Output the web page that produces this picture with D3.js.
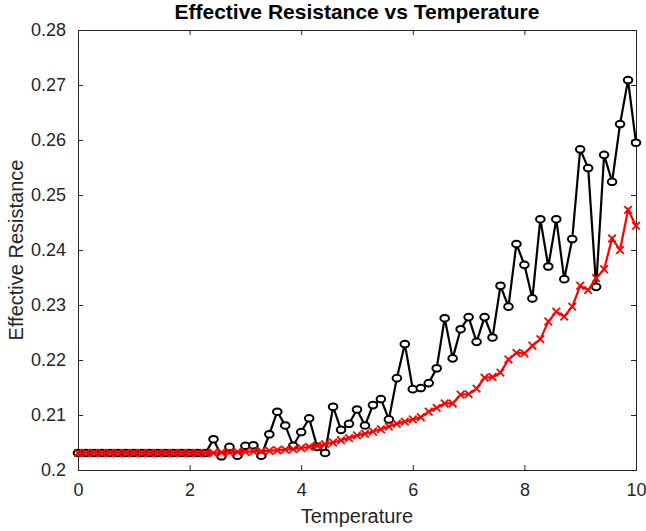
<!DOCTYPE html>
<html>
<head>
<meta charset="utf-8">
<script src="https://cdn.jsdelivr.net/npm/d3@7"></script>
<style>
    body { margin: 0; background: #fff; }
    svg { display: block; font-family: "Liberation Sans", Arial, sans-serif; }
</style>
</head>
<body>
<div id="chart"></div>
<script>
"use strict";

// temperature steps: x = i / 7, i = 0..70
var stepCount = 71;
var xTicks = [0, 2, 4, 6, 8, 10];
var yTicks = [0.2, 0.21, 0.22, 0.23, 0.24, 0.25, 0.26, 0.27, 0.28];
var yTickLabels = ["0.2", "0.21", "0.22", "0.23", "0.24", "0.25", "0.26", "0.27", "0.28"];

// black series (diamond markers)
var blackValues = [
    0.2031, 0.2031, 0.2031, 0.2031, 0.2031, 0.2031, 0.2031, 0.2031, 0.2031, 0.2031,
    0.2031, 0.2031, 0.2031, 0.2031, 0.2031, 0.2031, 0.2031, 0.2056, 0.2025, 0.2042,
    0.2026, 0.2044, 0.2045, 0.2026, 0.2065, 0.2106, 0.2081, 0.2044, 0.2069, 0.2094,
    0.2042, 0.2031, 0.2115, 0.2073, 0.2084, 0.2110, 0.2081, 0.2118, 0.2129, 0.2092,
    0.2167, 0.2229, 0.2147, 0.2149, 0.2158, 0.2185, 0.2276, 0.2203, 0.2256, 0.2278,
    0.2233, 0.2278, 0.2241, 0.2335, 0.2297, 0.2411, 0.2373, 0.2312, 0.2456, 0.2370,
    0.2456, 0.2347, 0.2420, 0.2583, 0.2549, 0.2333, 0.2573, 0.2524, 0.2629, 0.2709,
    0.2595
];

// red series (x markers)
var redValues = [
    0.2031, 0.2031, 0.2031, 0.2031, 0.2031, 0.2031, 0.2031, 0.2031, 0.2031, 0.2031,
    0.2031, 0.2031, 0.2031, 0.2031, 0.2031, 0.2031, 0.2031, 0.2031, 0.2032, 0.2032,
    0.2033, 0.2033, 0.2034, 0.2034, 0.2035, 0.2036, 0.2037, 0.2038, 0.2040, 0.2042,
    0.2044, 0.2047, 0.2050, 0.2054, 0.2058, 0.2063, 0.2066, 0.2070, 0.2074, 0.2079,
    0.2084, 0.2088, 0.2092, 0.2096, 0.2106, 0.2113, 0.2121, 0.2121, 0.2137, 0.2138,
    0.2148, 0.2168, 0.2169, 0.2177, 0.2201, 0.2213, 0.2212, 0.2226, 0.2238, 0.2270,
    0.2288, 0.2279, 0.2297, 0.2335, 0.2327, 0.2349, 0.2365, 0.2421, 0.2400, 0.2473,
    0.2444
];

var W = 646, H = 531,
    margin = { top: 30, right: 10, bottom: 61, left: 78 },
    pw = W - margin.left - margin.right,
    ph = H - margin.top - margin.bottom,
    axisColor = "#262626",
    tickLen = 5;

var temps = d3.range(stepCount).map(function (i) { return i / 7; });

var x = d3.scaleLinear().domain([0, 10]).range([0, pw]);
var y = d3.scaleLinear().domain([0.2, 0.28]).range([ph, 0]);

var svg = d3.select("#chart")
    .append("svg")
    .attr("width", W)
    .attr("height", H);

var g = svg.append("g")
    .attr("transform", "translate(" + margin.left + "," + margin.top + ")");

// axes with inward ticks, mirrored on top and right (box on)
g.append("g")
    .attr("transform", "translate(0," + ph + ")")
    .call(d3.axisBottom(x).tickValues(xTicks).tickSize(-tickLen).tickPadding(13).tickFormat(d3.format("d")));
g.append("g")
    .call(d3.axisTop(x).tickValues(xTicks).tickSize(-tickLen).tickFormat(""));
g.append("g")
    .call(d3.axisLeft(y).tickValues(yTicks).tickSize(-tickLen).tickPadding(12)
        .tickFormat(function (d, i) { return yTickLabels[i]; }));
g.append("g")
    .attr("transform", "translate(" + pw + ",0)")
    .call(d3.axisRight(y).tickValues(yTicks).tickSize(-tickLen).tickFormat(""));

g.selectAll(".domain").attr("stroke", axisColor).attr("stroke-width", 1);
g.selectAll(".tick line").attr("stroke", axisColor).attr("stroke-width", 1);
g.selectAll(".tick text")
    .attr("fill", axisColor)
    .attr("font-size", 18);

var line = d3.line()
    .x(function (d, i) { return x(temps[i]); })
    .y(function (d) { return y(d); });

// black series
g.append("path")
    .datum(blackValues)
    .attr("d", line)
    .attr("fill", "none")
    .attr("stroke", "#000")
    .attr("stroke-width", 2.2);

g.selectAll("ellipse.mk")
    .data(blackValues)
    .enter()
    .append("ellipse")
    .attr("class", "mk")
    .attr("cx", function (d, i) { return x(temps[i]); })
    .attr("cy", function (d) { return y(d); })
    .attr("rx", 4.3)
    .attr("ry", 3.3)
    .attr("fill", "#fff")
    .attr("stroke", "#000")
    .attr("stroke-width", 2);

// red series
g.append("path")
    .datum(redValues)
    .attr("d", line)
    .attr("fill", "none")
    .attr("stroke", "#ff0000")
    .attr("stroke-width", 2.2);

var cross = "M-3.8,-3.8L3.8,3.8M-3.8,3.8L3.8,-3.8";
g.selectAll("path.xm")
    .data(redValues)
    .enter()
    .append("path")
    .attr("class", "xm")
    .attr("d", cross)
    .attr("transform", function (d, i) { return "translate(" + x(temps[i]) + "," + y(d) + ")"; })
    .attr("fill", "none")
    .attr("stroke", "#ff0000")
    .attr("stroke-width", 1.8);

// title and labels
svg.append("text")
    .attr("x", margin.left + pw / 2)
    .attr("y", 19)
    .attr("text-anchor", "middle")
    .attr("font-size", 21)
    .attr("font-weight", "bold")
    .attr("fill", "#000")
    .text("Effective Resistance vs Temperature");

svg.append("text")
    .attr("x", margin.left + pw / 2)
    .attr("y", 523)
    .attr("text-anchor", "middle")
    .attr("font-size", 20)
    .attr("fill", axisColor)
    .text("Temperature");

svg.append("text")
    .attr("transform", "translate(23," + (margin.top + ph / 2) + ") rotate(-90)")
    .attr("text-anchor", "middle")
    .attr("font-size", 20)
    .attr("fill", axisColor)
    .text("Effective Resistance");
</script>
</body>
</html>
